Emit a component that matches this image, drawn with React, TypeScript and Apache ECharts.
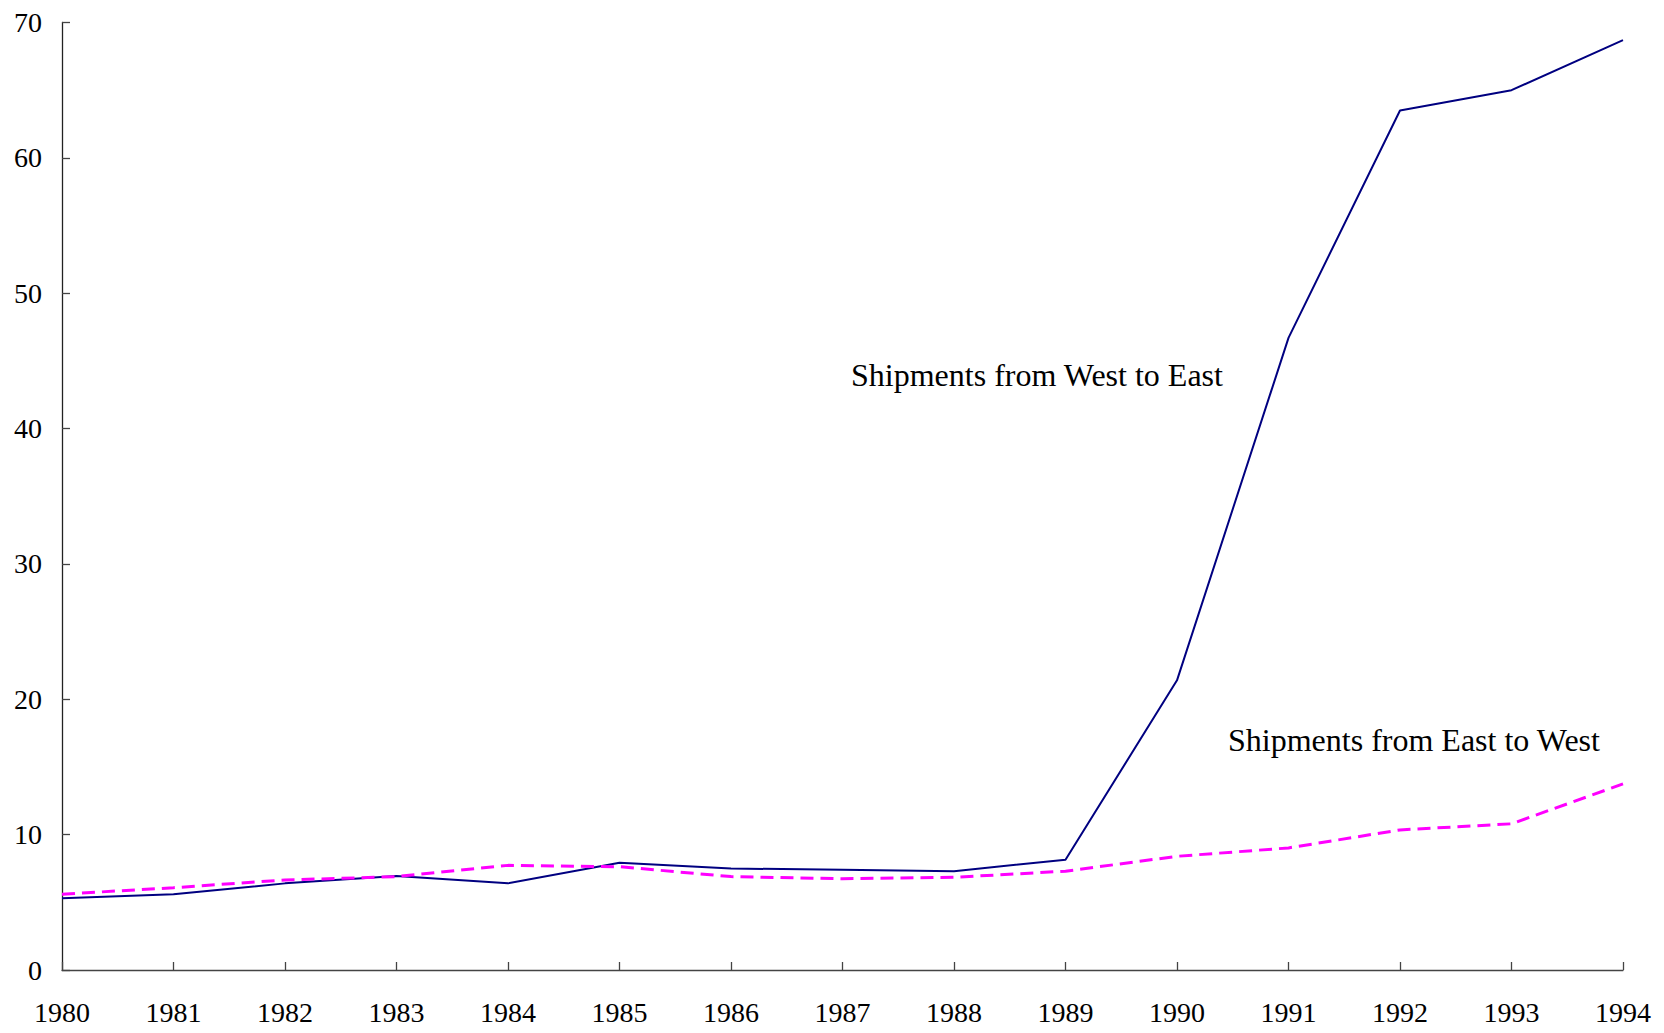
import React, { useEffect, useRef } from "react";
import * as echarts from "echarts";

const years = ["1980","1981","1982","1983","1984","1985","1986","1987","1988","1989","1990","1991","1992","1993","1994"];
const westToEast = [5.3, 5.6, 6.4, 6.95, 6.4, 7.93, 7.5, 7.4, 7.3, 8.15, 21.4, 46.7, 63.5, 65.0, 68.7];
const eastToWest = [5.6, 6.08, 6.65, 6.9, 7.73, 7.63, 6.9, 6.74, 6.85, 7.3, 8.4, 9.02, 10.35, 10.8, 13.75];
const yTicks = { min: 0, max: 70, interval: 10 };
const labelWE = "Shipments from West to East";
const labelEW = "Shipments from East to West";

const FONT = "'Liberation Serif', 'Times New Roman', serif";

export default function App() {
  const ref = useRef<HTMLDivElement>(null);
  useEffect(() => {
    if (!ref.current) return;
    const chart = echarts.init(ref.current, null, { renderer: "svg" });
    chart.setOption({
      animation: false,
      backgroundColor: "#ffffff",
      grid: { left: 62, right: 41, top: 22.5, bottom: 63, containLabel: false },
      xAxis: {
        type: "category",
        data: years,
        boundaryGap: false,
        axisLine: { lineStyle: { color: "#444", width: 1.3 } },
        axisTick: { inside: true, length: 8, lineStyle: { color: "#444", width: 1.3 } },
        axisLabel: { color: "#000", fontFamily: FONT, fontSize: 28, margin: 28 },
        splitLine: { show: false },
      },
      yAxis: {
        type: "value",
        min: yTicks.min,
        max: yTicks.max,
        interval: yTicks.interval,
        axisLine: { show: true, lineStyle: { color: "#222", width: 1.3 } },
        axisTick: { show: true, inside: true, length: 8, lineStyle: { color: "#444", width: 1.3 } },
        axisLabel: { color: "#000", fontFamily: FONT, fontSize: 28, margin: 20 },
        splitLine: { show: false },
      },
      graphic: [
        {
          type: "text",
          x: 851,
          y: 375,
          style: { text: labelWE, fill: "#000", font: `32px ${FONT}`, textVerticalAlign: "middle" },
        },
        {
          type: "text",
          x: 1228,
          y: 740,
          style: { text: labelEW, fill: "#000", font: `32px ${FONT}`, textVerticalAlign: "middle" },
        },
      ],
      series: [
        {
          name: labelWE,
          type: "line",
          data: westToEast,
          showSymbol: false,
          lineStyle: { color: "#000080", width: 2 },
          z: 2,
        },
        {
          name: labelEW,
          type: "line",
          data: eastToWest,
          showSymbol: false,
          lineStyle: { color: "#ff00ff", width: 3, type: [13, 7] },
          z: 3,
        },
      ],
    });
    return () => chart.dispose();
  }, []);
  return (
    <div
      ref={ref}
      style={{ position: "fixed", left: 0, top: 0, width: 1664, height: 1033, background: "#fff" }}
    />
  );
}
